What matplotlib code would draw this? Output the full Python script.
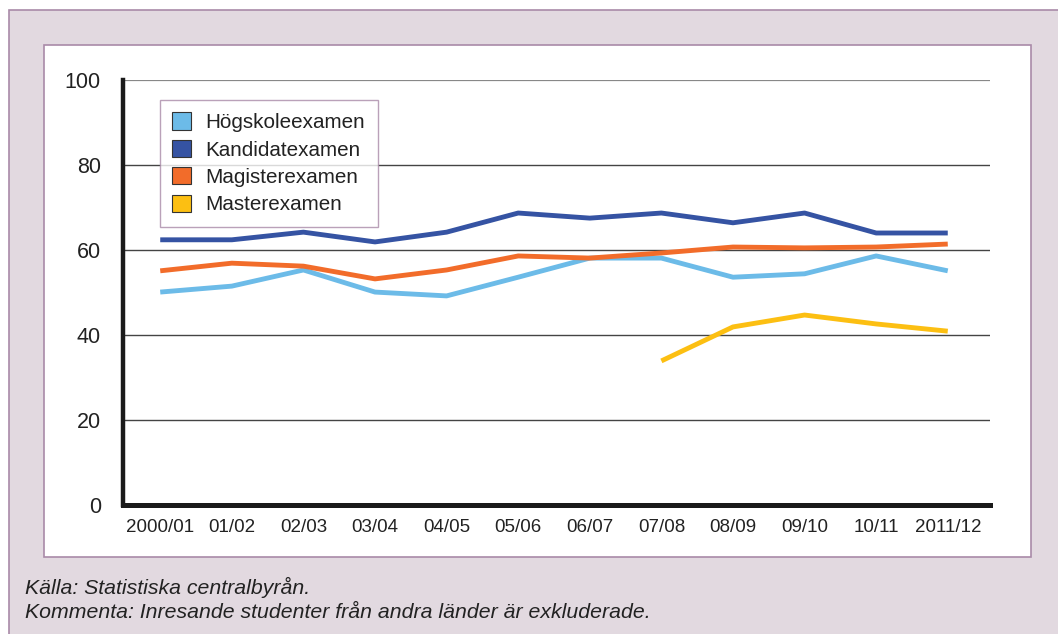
import matplotlib.pyplot as plt
import matplotlib.patches as mpatches
import numpy as np

years = ['2000/01', '01/02', '02/03', '03/04', '04/05', '05/06',
         '06/07', '07/08', '08/09', '09/10', '10/11', '2011/12']
hogskole = [50.1, 51.5, 55.3, 50.1, 49.2, 53.6, 58.1, 58.1, 53.6, 54.4, 58.6, 55.1]
kandidat = [62.4, 62.4, 64.2, 61.9, 64.2, 68.7, 67.5, 68.7, 66.4, 68.7, 64.0, 64.0]
magister = [55.1, 56.9, 56.2, 53.2, 55.3, 58.6, 58.1, 59.3, 60.7, 60.5, 60.7, 61.4]
master = [np.nan] * 7 + [33.9, 41.9, 44.7, 42.6, 40.9]
yticks = [0, 20, 40, 60, 80, 100]

series = [
    ('Högskoleexamen', hogskole, '#6cbbe8'),
    ('Kandidatexamen', kandidat, '#3553a3'),
    ('Magisterexamen', magister, '#f26c2a'),
    ('Masterexamen', master, '#fcbf12'),
]

plt.rcParams['font.family'] = ['Liberation Sans', 'DejaVu Sans']

W, H = 1058, 634
fig = plt.figure(figsize=(W / 100, H / 100), dpi=100)
fig.patch.set_facecolor('white')

# outer tinted frame and white inner panel (behind the axes)
fig.patches.append(mpatches.Rectangle((9 / W, -0.01), 1, 1.01 - 10 / H, transform=fig.transFigure,
                                      facecolor='#e2d9e0', edgecolor='#a98aa8', lw=1.2, zorder=-2))
fig.patches.append(mpatches.Rectangle((44 / W, 1 - 557 / H), (1031 - 44) / W, (557 - 45) / H,
                                      transform=fig.transFigure, facecolor='white',
                                      edgecolor='#a98aa8', lw=1.2, zorder=-1))

ax = fig.add_axes([123 / W, 1 - 505 / H, (990 - 123) / W, (505 - 80) / H])
ax.set_facecolor('none')

x = np.arange(len(years))
for name, vals, col in series:
    ax.plot(x, vals, color=col, lw=3.5, solid_capstyle='butt', zorder=3)

ax.set_xlim(-0.52, 11.59)
ax.set_ylim(0, 100)
ax.set_yticks(yticks)
ax.set_yticklabels([str(v) for v in yticks], fontsize=15.5, color='#222222')
ax.set_xticks(x)
ax.set_xticklabels(years, fontsize=13.5, color='#222222')
ax.tick_params(axis='y', length=0, pad=16)
ax.tick_params(axis='x', length=0, pad=10)

for v in yticks[1:]:
    ax.axhline(v, color='#444444' if v < 100 else '#888888', lw=1 if v < 100 else 1.6, zorder=1)

for s in ['top', 'right']:
    ax.spines[s].set_visible(False)
ax.spines['left'].set_linewidth(3.2)
ax.spines['bottom'].set_linewidth(3.6)
ax.spines['left'].set_color('#1a1a1a')
ax.spines['bottom'].set_color('#1a1a1a')
ax.spines['bottom'].set_zorder(4)

handles = [mpatches.Patch(facecolor=c, edgecolor='#333333', lw=0.8, label=n) for n, _, c in series]
leg = ax.legend(handles=handles, loc='upper left', bbox_to_anchor=(37 / 867, 1 - 20 / 425),
                fontsize=14.9, frameon=True, fancybox=False, handlelength=0.9, handleheight=0.9,
                handletextpad=0.7, labelspacing=0.37, borderpad=0.6, borderaxespad=0)
leg.get_frame().set_edgecolor('#a98aa8')
leg.get_frame().set_linewidth(1)
leg.set_zorder(5)
for t in leg.get_texts():
    t.set_color('#222222')

fig.text(25 / W, 1 - 587 / H, 'Källa: Statistiska centralbyrån.', fontsize=15.3, style='italic',
         color='#222222', va='center')
fig.text(25 / W, 1 - 613 / H, 'Kommenta: Inresande studenter från andra länder är exkluderade.',
         fontsize=15.3, style='italic', color='#222222', va='center')

fig.savefig('out.png', dpi=100)
